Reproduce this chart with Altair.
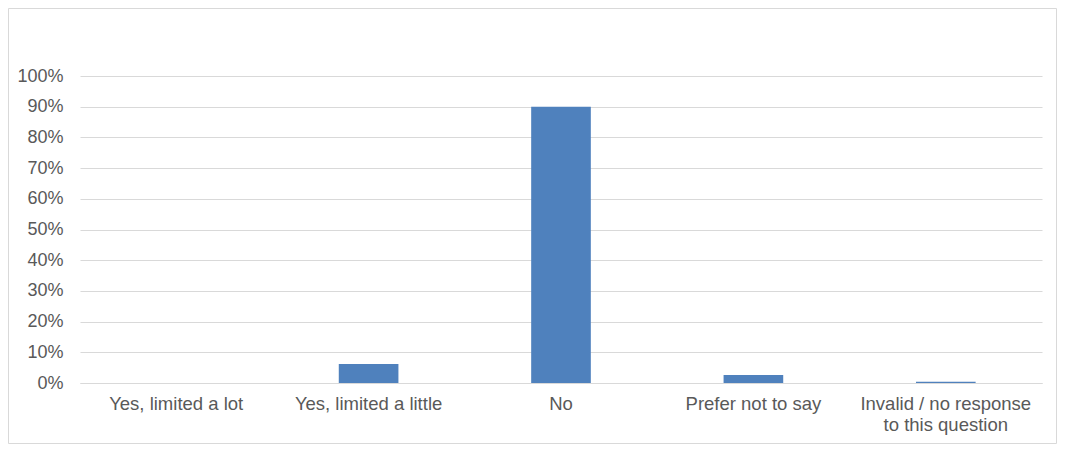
import altair as alt
import pandas as pd

categories = ["Yes, limited a lot", "Yes, limited a little", "No", "Prefer not to say",
              "Invalid / no response to this question"]
values = [0.0, 0.062, 0.90, 0.026, 0.004]

df = pd.DataFrame({"category": categories, "value": values})

FONT = "Liberation Sans"

label_expr = ("datum.value == 'Invalid / no response to this question' ? "
              "['Invalid / no response', 'to this question'] : datum.value")

bars = alt.Chart(df).mark_bar(color="#4f81bd").encode(
    x=alt.X("category:N", sort=categories, title=None,
            scale=alt.Scale(paddingInner=0.69, paddingOuter=0.345),
            axis=alt.Axis(labelAngle=0, labelExpr=label_expr, labelFont=FONT,
                          labelFontSize=18.5, labelColor="#595959", labelPadding=11,
                          labelLineHeight=21, ticks=False, domain=True,
                          domainColor="#d9d9d9", domainWidth=1, labelLimit=300)),
    y=alt.Y("value:Q", title=None,
            scale=alt.Scale(domain=[0, 1], nice=False),
            axis=alt.Axis(format=".0%", values=[i / 10 for i in range(11)],
                          labelFont=FONT, labelFontSize=18, labelColor="#595959",
                          labelPadding=17, ticks=False, domain=False,
                          grid=True, gridColor="#d9d9d9", gridWidth=1)),
)

border = alt.Chart(pd.DataFrame({"a": [0]})).mark_rect(
    fill=None, stroke="#d9d9d9", strokeWidth=1, clip=False
).encode(
    x=alt.value(-71.5), x2=alt.value(976.5),
    y=alt.value(-67.5), y2=alt.value(367.5),
)

chart = alt.layer(border, bars).properties(
    width=962, height=307,
    background="white",
    padding={"left": 72, "top": 68, "right": 15, "bottom": 61},
    autosize=alt.AutoSizeParams(type="none"),
).configure_view(strokeWidth=0, stroke="transparent")

chart.save("out.html", embed_options={"renderer": "svg", "actions": False})
